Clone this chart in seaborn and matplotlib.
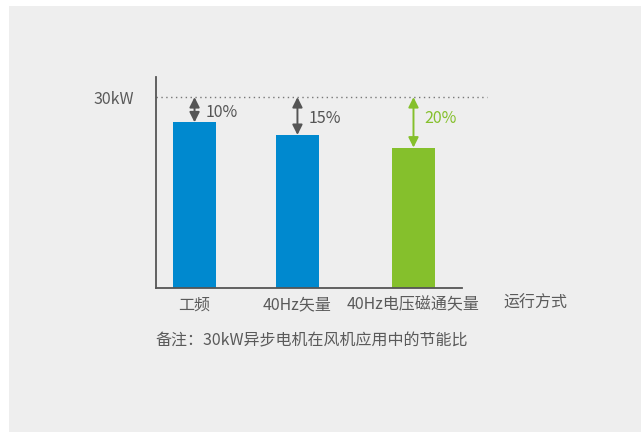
import matplotlib
matplotlib.use("Agg")
import matplotlib.pyplot as plt
import matplotlib.patches as mpatches
import pandas as pd
import seaborn as sns

# Data
modes = ["工频", "40Hz矢量", "40Hz电压磁通矢量"]
power_kw = [27.0, 25.5, 24.0]
savings = ["10%", "15%", "20%"]
rated_kw = 30
rated_label = "30kW"
x_title = "运行方式"
note = "备注：30kW异步电机在风机应用中的节能比"

# bar positions along x (the middle bar sits a little left of centre)
bar_pos = [0, 0.94, 2]

blue = "#0089CF"
green = "#85C02C"
bar_colors = [blue, blue, green]
arrow_colors = ["#555555", "#555555", green]
label_dy = [-0.3, -0.3, 0.5]
text_gray = "#5a5a5a"

sns.set_theme(style="white")
plt.rcParams["font.family"] = ["Noto Sans CJK SC", "DejaVu Sans"]

df = pd.DataFrame({"pos": bar_pos, "kw": power_kw, "mode": modes})

fig = plt.figure(figsize=(6.42, 4.33), dpi=100)
fig.patch.set_facecolor("white")
# light gray panel behind everything
fig.patches.append(mpatches.Rectangle((9 / 642, 1 / 433), 632 / 642, 426 / 433,
                                      transform=fig.transFigure, facecolor="#eeeeee",
                                      edgecolor="none", zorder=-10))

ax = fig.add_axes([0.243, 0.335, 0.4766, 0.4873])
ax.set_facecolor("none")

sns.barplot(data=df, x="pos", y="kw", hue="mode", palette=bar_colors,
            legend=False, native_scale=True, width=0.418, saturation=1,
            linewidth=0, dodge=False, ax=ax)

ax.set_ylim(7.3, 32.4)
ax.set_xlim(-0.352, 2.443)

# dotted reference line at rated power
ax.plot([-0.352, 2.67], [rated_kw, rated_kw], linestyle=(0, (1, 2.5)),
        color="#777777", linewidth=1, clip_on=False)

# double-headed arrows with saving labels
for x, v, s, c, dy in zip(bar_pos, power_kw, savings, arrow_colors, label_dy):
    ax.annotate("", xy=(x, v), xytext=(x, rated_kw),
                arrowprops=dict(arrowstyle="<|-|>,head_length=0.5,head_width=0.25",
                                color=c, lw=1.4, shrinkA=0, shrinkB=0))
    ax.text(x + 0.1, (rated_kw + v) / 2 + dy, s, color=c, fontsize=11.5,
            va="center", ha="left")

ax.set_xticks(bar_pos)
ax.set_xticklabels(modes)
ax.set_yticks([rated_kw])
ax.set_yticklabels([rated_label])
ax.tick_params(axis="y", length=0, pad=16, labelsize=11.5, labelcolor=text_gray)
ax.tick_params(axis="x", length=0, pad=6, labelsize=11.5, labelcolor=text_gray)
ax.set_xlabel("")
ax.set_ylabel("")

for side in ["top", "right"]:
    ax.spines[side].set_visible(False)
for side in ["left", "bottom"]:
    ax.spines[side].set_color("#555555")
    ax.spines[side].set_linewidth(1.3)

ax.text(1.134, -0.071, x_title, transform=ax.transAxes, fontsize=11.5,
        color=text_gray, ha="left", va="center")

fig.text(155 / 642, 1 - 341 / 433, note, fontsize=11.5, color=text_gray,
         ha="left", va="center")

fig.savefig("out.png", dpi=100, facecolor=fig.get_facecolor())
